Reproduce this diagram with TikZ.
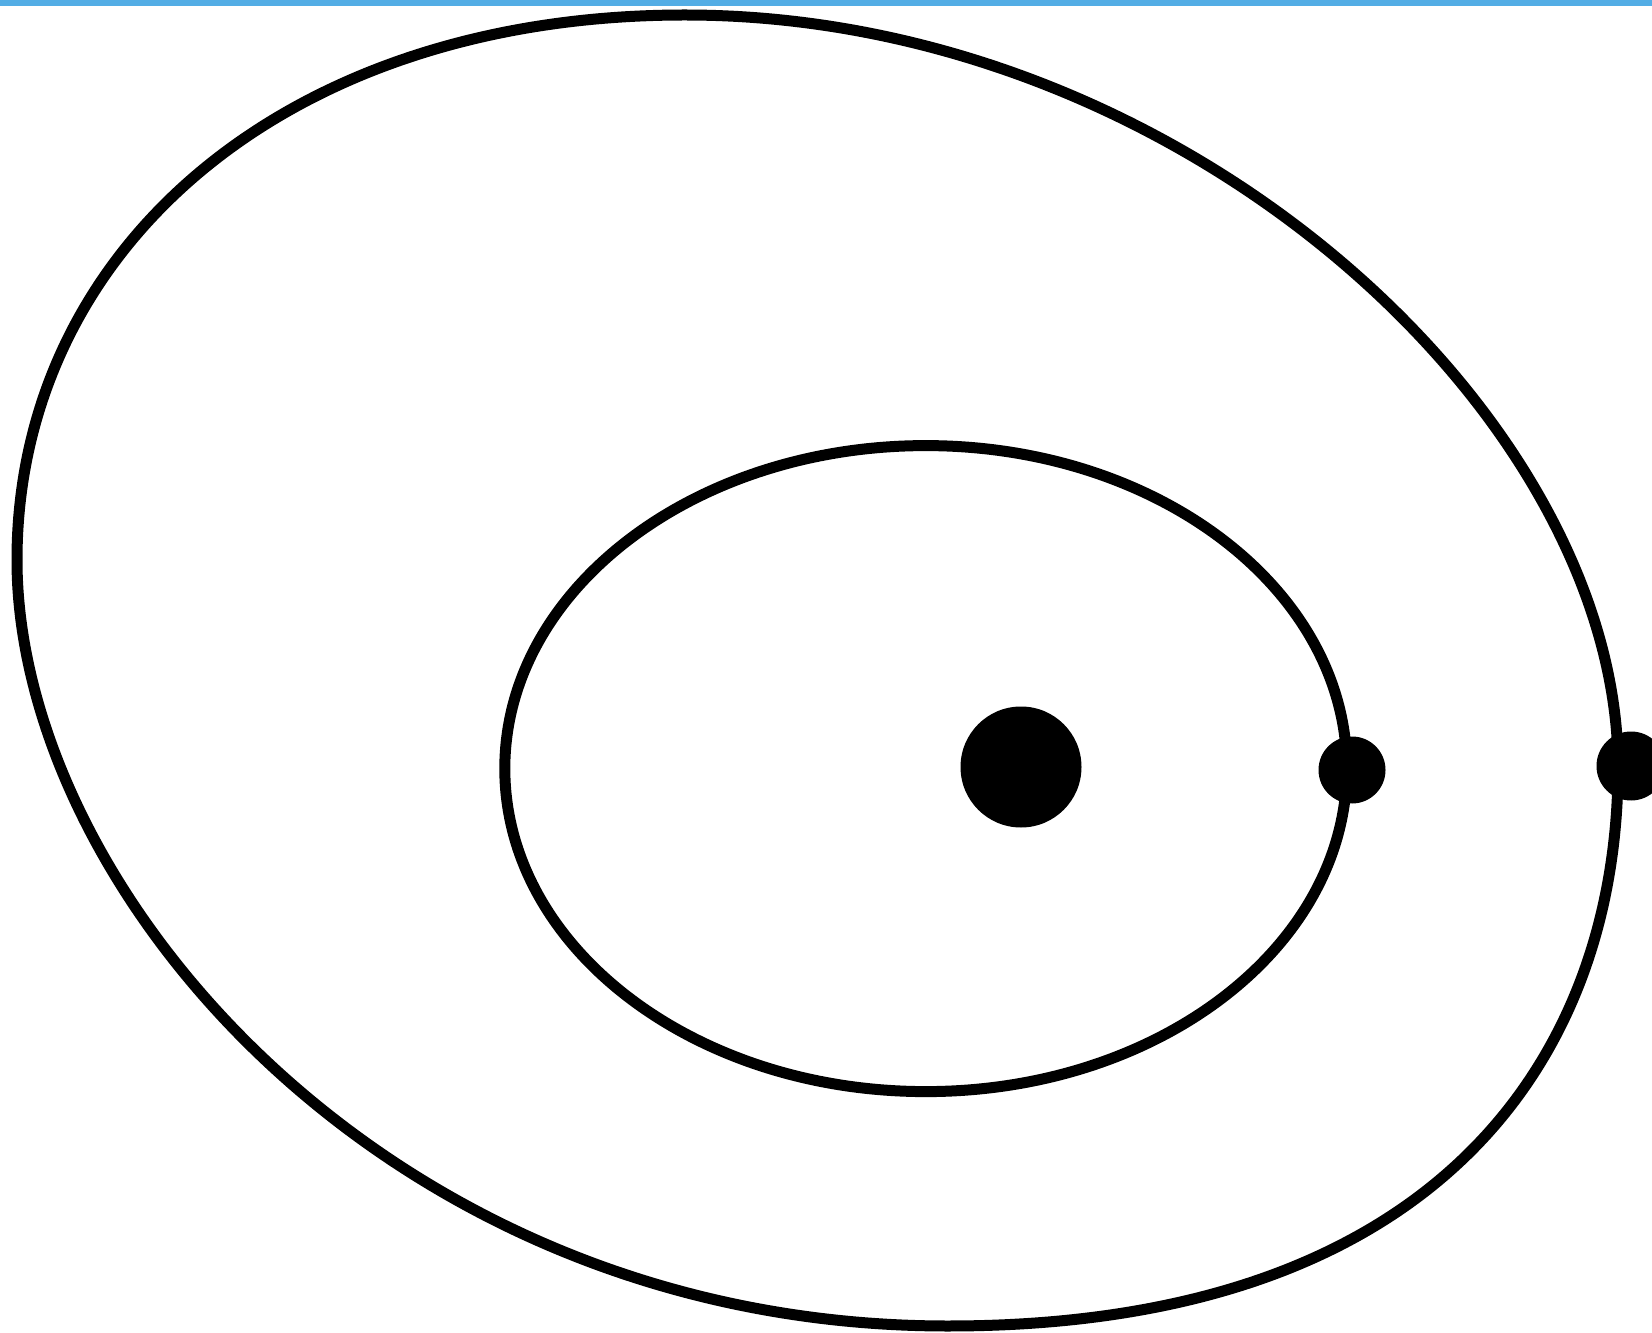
\documentclass[tikz,border=0pt]{standalone}
\usepackage{xcolor}
\usepackage{tikz}
\definecolor{topblue}{RGB}{83,173,229}
\tikzset{
  orbit/.style={draw=black, line width=1.1mm},
  body/.style={circle, fill=black, inner sep=0pt},
  star/.style={body, minimum size=12.1mm},
  planet/.style={body, minimum size=6.7mm}
}

\begin{document}
\begin{tikzpicture}[x=0.1mm, y=-0.1mm]
        \useasboundingbox (0,0) rectangle (1652,1333);
        \fill[topblue] (0,0) rectangle (1652,6);
        % orbits
        \draw[orbit] (925.8,768.6) ellipse [x radius=421, y radius=323];
        \draw[orbit] (685,15) .. controls (1185,15) and (1618,417) .. (1618,767)
          .. controls (1618,1045) and (1450,1326) .. (948,1326)
          .. controls (388,1326) and (17,890) .. (17,560)
          .. controls (17,252) and (282,15) .. (685,15) -- cycle;
        % bodies
        \node[star] (sun) at (1021,767) {};
        \node[planet] (inner) at (1352,770) {};
        \node[planet, minimum size=6.9mm] (outer) at (1631,766) {};
\end{tikzpicture}
\end{document}
